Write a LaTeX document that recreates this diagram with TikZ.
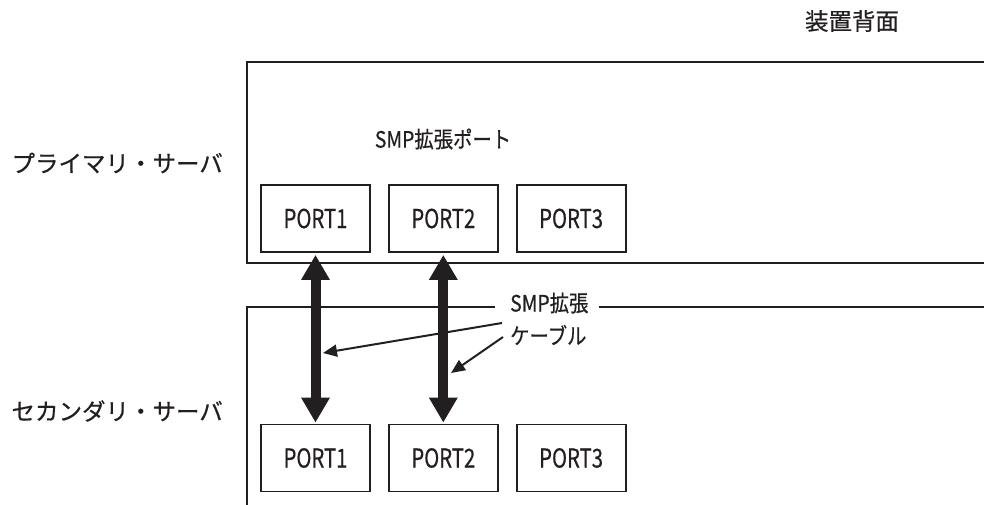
\documentclass[tikz,border=0pt]{standalone}
\usepackage{fontspec}
\setmainfont{Noto Sans CJK JP}[FakeBold=0.5]
\newfontfamily\condfont[FakeStretch=0.86,FakeBold=0.5]{Noto Sans CJK JP}
\newfontfamily\portfont[FakeStretch=0.78,FakeBold=0.5]{Noto Sans CJK JP}
\usepackage{tikz}
\usetikzlibrary{arrows.meta, positioning}
\definecolor{ink}{RGB}{35,31,32}

\begin{document}
\begin{tikzpicture}[
        x=1pt, y=-1pt,
        node distance=17pt,
        every node/.style={text=ink},
        frame/.style={draw=ink, line width=1.8pt},
        port/.style={rectangle, draw=ink, line width=1.8pt, minimum width=109pt, minimum height=67pt,
          inner sep=0pt, font=\portfont\fontsize{26}{30}\selectfont},
        lbl/.style={font=\fontsize{23.5}{27}\selectfont},
        small/.style={font=\condfont\fontsize{22.5}{26}\selectfont, inner sep=0pt},
        cable/.style={draw=ink, line width=10pt, {Triangle[width=27pt,length=25pt]}-{Triangle[width=27pt,length=25pt]}, shorten <=2pt, shorten >=1pt},
        pointer/.style={draw=ink, line width=2pt, -{Triangle[width=12pt,length=14pt]}}
      ]
      \useasboundingbox (0,0) rectangle (984,505);

      \node (rear) [lbl] at (852,21) {装置背面};
      \node (prim) [lbl, anchor=west] at (8,163) {プライマリ・サーバ};
      \node (sec) [lbl, anchor=west] at (8,411) {セカンダリ・サーバ};
      \node (smp) [small] at (443,139) {SMP拡張ポート};
      \node (cab1) [small, anchor=west] at (510,303) {SMP拡張};
      \node (cab2) [small, anchor=west] at (510,335) {ケーブル};

      % housings, open to the right
      \draw[frame] (986,62) -- (247,62) -- (247,263) -- (986,263);
      \draw[frame] ([xshift=-15pt]cab1.west |- 0,307) -- (247,307) -- (247,507);
      \draw[frame] ([xshift=10pt]cab1.east |- 0,307) -- (986,307);

      \node (p1) [port] at (315.5,218.5) {PORT1};
      \node (p2) [port, right=of p1] {PORT2};
      \node (p3) [port, right=of p2] {PORT3};
      \node (s1) [port] at (315.5,458) {PORT1};
      \node (s2) [port, right=of s1] {PORT2};
      \node (s3) [port, right=of s2] {PORT3};

      \draw[cable] (p1.south) -- (s1.north);
      \draw[cable] (p2.south) -- (s2.north);

      \coordinate (t1) at (323,353);
      \coordinate (t2) at (451,373);
      \draw[pointer] ([shift={(-8,-12)}]cab2.west) -- (t1);
      \draw[pointer] ([shift={(-7,2)}]cab2.west) -- (t2);
    \end{tikzpicture}
\end{document}
